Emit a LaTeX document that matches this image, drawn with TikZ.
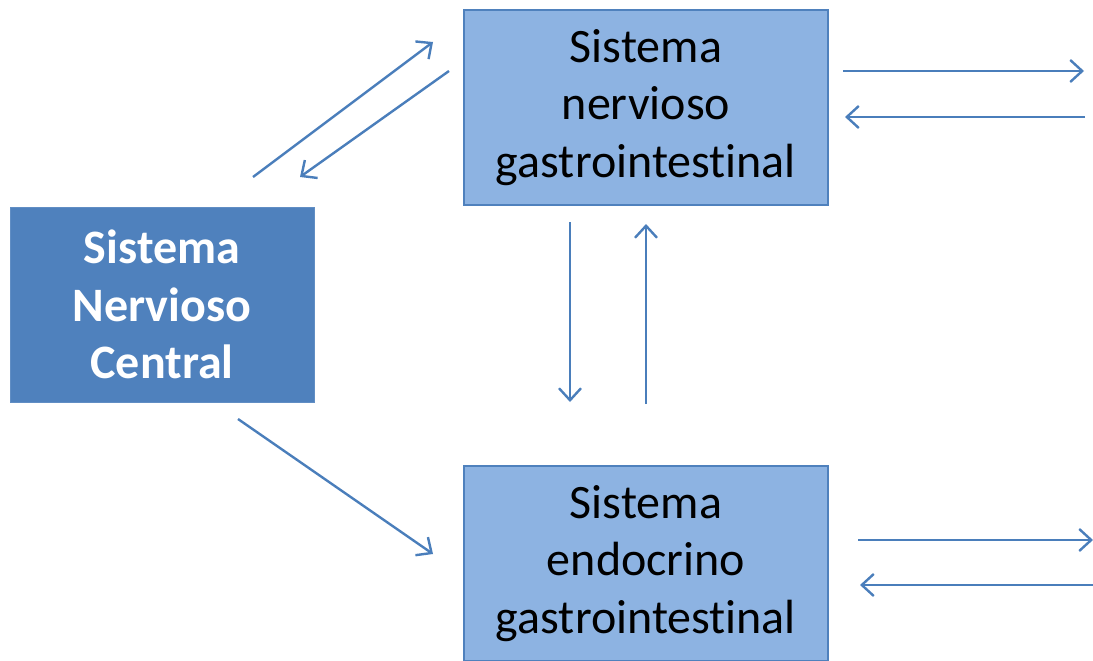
\documentclass[tikz,border=0pt]{standalone}
\usepackage{fontspec}
\setmainfont[Ligatures={NoCommon}]{Carlito}
\usetikzlibrary{arrows.meta}
\definecolor{dark}{HTML}{4F81BD}
\definecolor{light}{HTML}{8DB3E2}
\definecolor{arr}{HTML}{4A7EBB}
\tikzset{
  box/.style={draw=dark, line width=1.3pt, minimum width=364pt, minimum height=195pt, align=center, font=\fontsize{48}{57.5}\selectfont, inner sep=0pt},
  darkbox/.style={fill=dark, draw=dark!90!white, line width=1pt, minimum width=304pt, minimum height=195pt, align=center, text=white, font=\fontsize{48}{57.5}\selectfont\bfseries, inner sep=0pt},
  lightbox/.style={box, fill=light, text=black},
  conn/.style={draw=arr, line width=2.4pt, -{Straight Barb[length=12pt, width=22pt, line width=2.4pt]}},
}
\begin{document}
\begin{tikzpicture}[x=1pt, y=-1pt]
\useasboundingbox (0,0) rectangle (1093,661);
\node[darkbox] (cns) at (162,304.5) {Sistema\\Nervioso\\Central};
\node[lightbox] (sng) at (646,107.5) {Sistema\\nervioso\\gastrointestinal};
\node[lightbox] (seg) at (646,563.5) {Sistema\\endocrino\\gastrointestinal};
\coordinate (a1s) at (253,177); \coordinate (a1e) at (433,42);
\coordinate (a2s) at (449,71); \coordinate (a2e) at (300,177);
\coordinate (a3s) at (843,71); \coordinate (a3e) at (1084,71);
\coordinate (a4s) at (1085,117); \coordinate (a4e) at (845,117);
\coordinate (a5s) at (570,222); \coordinate (a5e) at (570,402);
\coordinate (a6s) at (646,404); \coordinate (a6e) at (646,224);
\coordinate (a7s) at (238,419); \coordinate (a7e) at (433,554);
\coordinate (a8s) at (858,540); \coordinate (a8e) at (1093,540);
\coordinate (a9s) at (1093,585); \coordinate (a9e) at (860,585);
\draw[conn] (a1s) -- (a1e);
\draw[conn] (a2s) -- (a2e);
\draw[conn] (a3s) -- (a3e);
\draw[conn] (a4s) -- (a4e);
\draw[conn] (a5s) -- (a5e);
\draw[conn] (a6s) -- (a6e);
\draw[conn] (a7s) -- (a7e);
\draw[conn] (a8s) -- (a8e);
\draw[conn] (a9s) -- (a9e);
\end{tikzpicture}
\end{document}
